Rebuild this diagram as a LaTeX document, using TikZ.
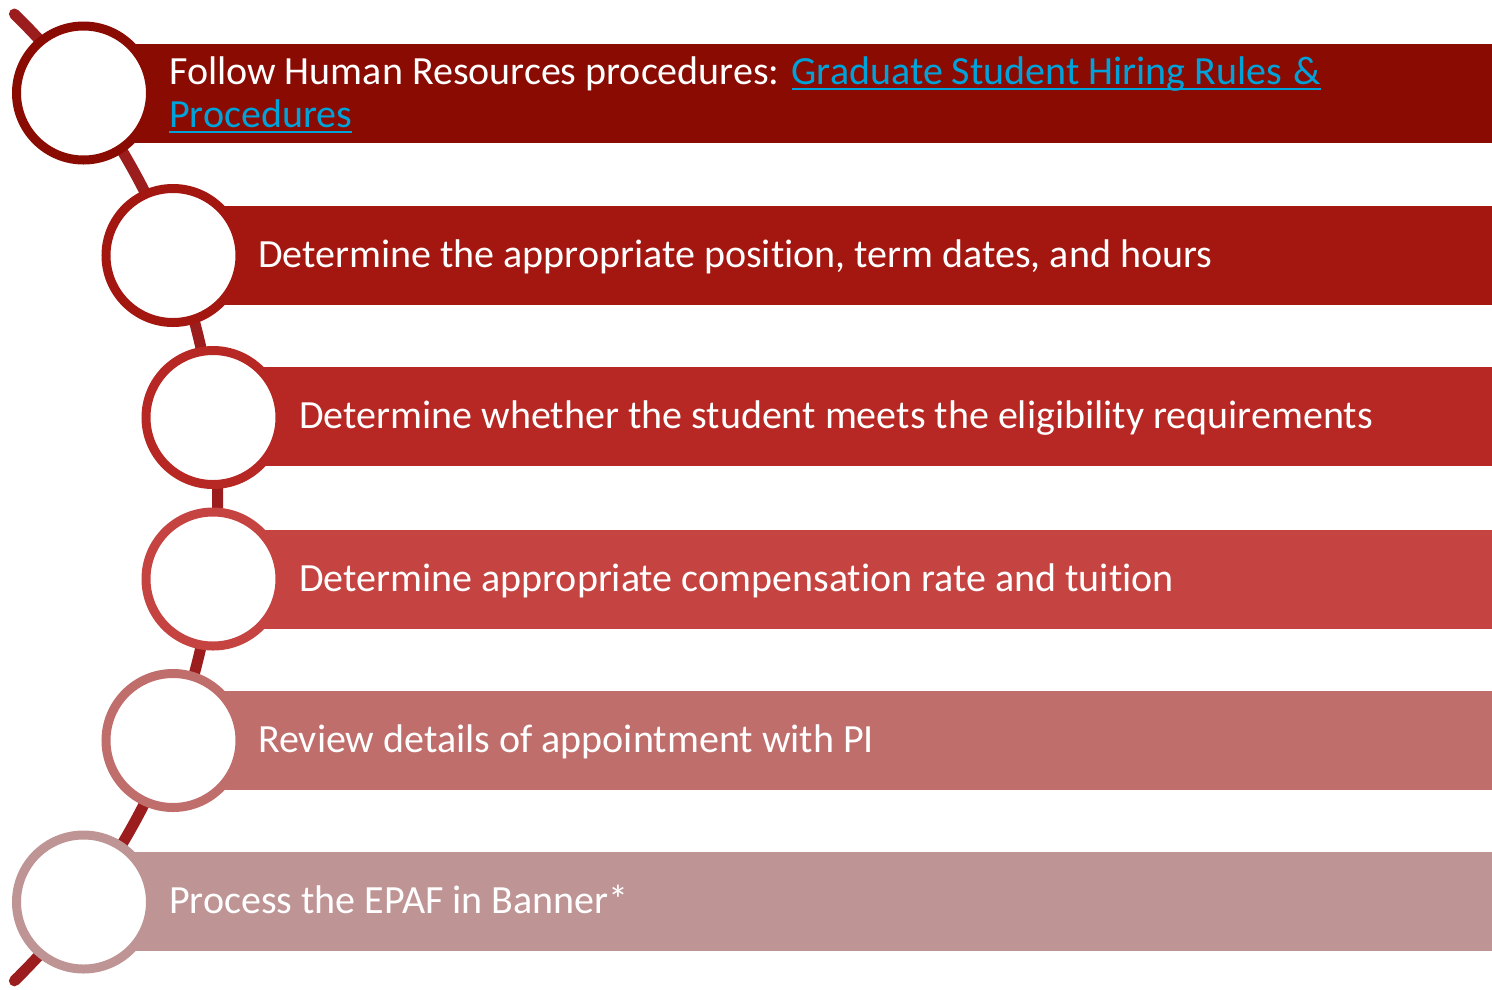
\documentclass[tikz,border=0pt]{standalone}
\usepackage{fontspec}
\setmainfont{Carlito}[Ligatures=NoCommon]

\definecolor{cA}{HTML}{8A0B02}
\definecolor{cB}{HTML}{A41711}
\definecolor{cC}{HTML}{B72723}
\definecolor{cD}{HTML}{C54340}
\definecolor{cE}{HTML}{BF6E6C}
\definecolor{cF}{HTML}{BF9495}
\definecolor{spine}{HTML}{9B1D1D}
\definecolor{linkc}{HTML}{00A2DA}

% underlined hyperlink-style text
\newcommand\ulk[1]{\setbox0\hbox{#1}\textcolor{linkc}{\rlap{\rule[-6pt]{\wd0}{2pt}}\box0}}

\begin{document}
\begin{tikzpicture}[x=1pt,y=1pt,
  ring/.style={draw, fill=white, line width=9pt},
  bar/.style={rectangle, anchor=west, inner sep=0pt, draw=none,
              minimum height=99pt},
  lbl/.style={anchor=base west, inner sep=0pt, text=white,
              font=\fontsize{40}{43}\selectfont}]
\useasboundingbox (0,0) rectangle (1492,-989);

% curved spine behind the list
\coordinate (sTop) at (14.4,-14);
\draw[spine, line width=11pt, line cap=round]
  (sTop) arc[start angle=45.62, end angle=-45.62, radius=676.4pt] coordinate (sBot);

% bars
\node[bar, fill=cA, minimum width=1408.5pt] (b1) at (83.5,-93.5) {};
\node[bar, fill=cB, minimum width=1319pt] (b2) at (173,-255.5) {};
\node[bar, fill=cC, minimum width=1279pt] (b3) at (213,-416.5) {};
\node[bar, fill=cD, minimum width=1279pt] (b4) at (213,-579) {};
\node[bar, fill=cE, minimum width=1319pt] (b5) at (173,-740) {};
\node[bar, fill=cF, minimum width=1408.5pt] (b6) at (83.5,-901.5) {};

% ring centres
\coordinate (r1) at (83.5,-93);
\coordinate (r2) at (173,-255.5);
\coordinate (r3) at (213,-417.5);
\coordinate (r4) at (213,-579);
\coordinate (r5) at (173,-740.5);
\coordinate (r6) at (83.5,-902);

% rings
\foreach \r/\c in {r1/cA, r2/cB, r3/cC, r4/cD, r5/cE, r6/cF}
  \draw[ring, draw=\c] (\r) circle[radius=67pt];

% labels
\node[lbl] (t1) at (169,-84) {Follow Human Resources procedures: \ulk{Graduate Student Hiring Rules\hspace{2pt} \&}};
\node[lbl] (t1b) at (169,-127) {\ulk{Procedures}};
\node[lbl] (t2) at (258,-267.5) {Determine the appropriate position, term dates, and hours};
\node[lbl] (t3) at (299,-428.5) {Determine whether the student meets the eligibility requirements};
\node[lbl] (t4) at (299,-591) {Determine appropriate compensation rate and tuition};
\node[lbl] (t5) at (258,-752) {Review details of appointment with PI};
\node[lbl] (t6) at (169,-913.5) {Process the EPAF in Banner*};
\end{tikzpicture}
\end{document}
